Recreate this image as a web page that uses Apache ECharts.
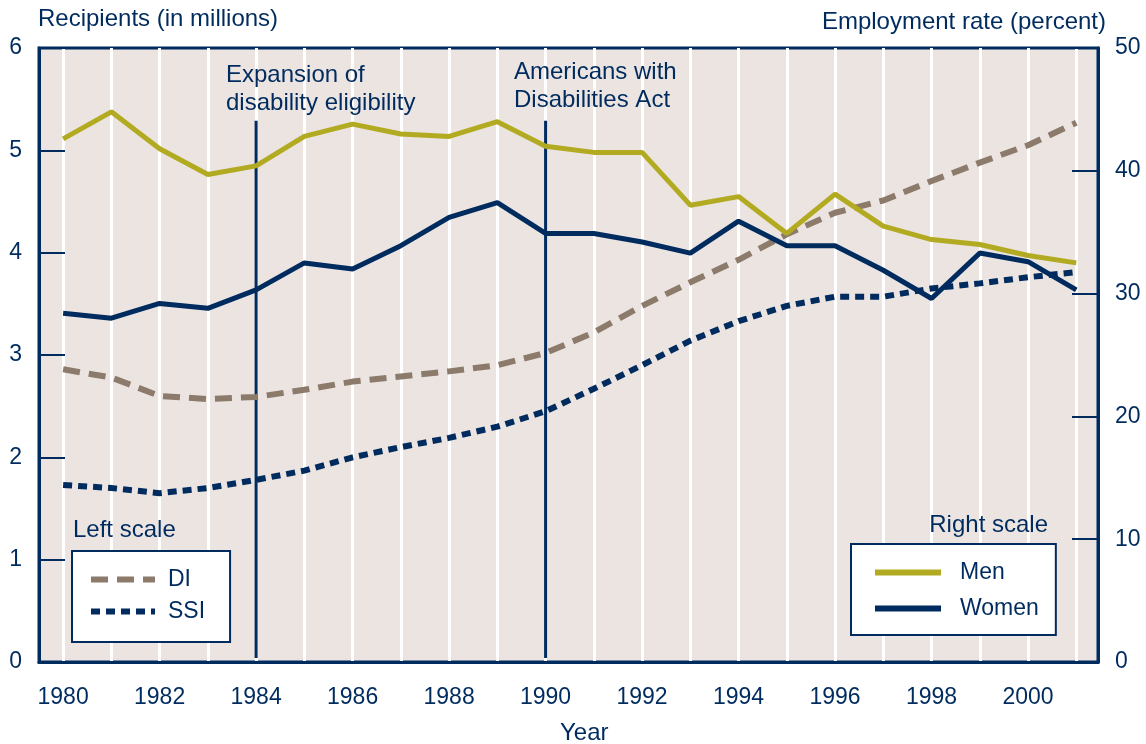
<!DOCTYPE html>
<html>
<head>
<meta charset="utf-8">
<title>Disability recipients and employment rate</title>
<script src="https://cdn.jsdelivr.net/npm/echarts@6/dist/echarts.min.js"></script>
<style>
  html, body { margin: 0; padding: 0; background: #fff; }
  #main { width: 1146px; height: 744px; }
</style>
</head>
<body>
<div id="main"></div>
<script>
// data
var years = [1980, 1981, 1982, 1983, 1984, 1985, 1986, 1987, 1988, 1989, 1990,
             1991, 1992, 1993, 1994, 1995, 1996, 1997, 1998, 1999, 2000, 2001];
var yearLabels = [1980, 1982, 1984, 1986, 1988, 1990, 1992, 1994, 1996, 1998, 2000];
// left scale, recipients in millions
var di  = [2.86, 2.78, 2.60, 2.57, 2.59, 2.66, 2.74, 2.79, 2.84, 2.90, 3.02,
           3.22, 3.48, 3.71, 3.93, 4.18, 4.39, 4.51, 4.70, 4.88, 5.05, 5.27];
var ssi = [1.73, 1.70, 1.65, 1.70, 1.78, 1.87, 2.00, 2.10, 2.19, 2.30, 2.45,
           2.67, 2.90, 3.14, 3.33, 3.48, 3.57, 3.57, 3.65, 3.70, 3.76, 3.81];
// right scale, employment rate (percent)
var men   = [42.6, 44.8, 41.8, 39.7, 40.4, 42.8, 43.8, 43.0, 42.8, 44.0, 42.0,
             41.5, 41.5, 37.2, 37.9, 34.9, 38.1, 35.5, 34.4, 34.0, 33.1, 32.5];
var women = [28.4, 28.0, 29.2, 28.8, 30.3, 32.5, 32.0, 33.9, 36.2, 37.4, 34.9,
             34.9, 34.2, 33.3, 35.9, 33.9, 33.9, 31.9, 29.6, 33.3, 32.6, 30.3];
// policy events (vertical lines, drawn on left scale from 0 up to eventTop)
var events = [1984, 1990];
var eventText = ['Expansion of\ndisability eligibility', 'Americans with\nDisabilities Act'];
var eventTop = 5.29;

var navy = '#002b5e';
var olive = '#b2ab21';
var taupe = '#8c7b6b';
var font = "'Liberation Sans', Arial, sans-serif";

function pairs(xs, ys) {
  return xs.map(function (x, i) { return [x, ys[i]]; });
}

var myChart = echarts.init(document.getElementById('main'));

var series = [
  {
    name: 'DI', type: 'line', yAxisIndex: 0, symbol: 'none', z: 3,
    lineStyle: { color: taupe, width: 6, type: [17, 9] },
    itemStyle: { color: taupe },
    data: pairs(years, di)
  },
  {
    name: 'SSI', type: 'line', yAxisIndex: 0, symbol: 'none', z: 3,
    lineStyle: { color: navy, width: 6, type: [9, 6] },
    itemStyle: { color: navy },
    data: pairs(years, ssi)
  },
  {
    name: 'Men', type: 'line', yAxisIndex: 1, symbol: 'none', z: 4,
    lineStyle: { color: olive, width: 5 },
    itemStyle: { color: olive },
    data: pairs(years, men)
  },
  {
    name: 'Women', type: 'line', yAxisIndex: 1, symbol: 'none', z: 4,
    lineStyle: { color: navy, width: 5 },
    itemStyle: { color: navy },
    data: pairs(years, women)
  }
];

events.forEach(function (yr, i) {
  series.push({
    name: 'event' + i, type: 'line', yAxisIndex: 0, symbol: 'none', z: 2,
    silent: true,
    lineStyle: { color: navy, width: 3 },
    data: [[yr, 0.04], [yr, eventTop]]
  });
});

function txt(extra) {
  var base = { type: 'text', z: 100, style: { fill: navy, font: '24px ' + font, lineHeight: 28 } };
  for (var k in extra) {
    if (k === 'style') {
      for (var s in extra.style) base.style[s] = extra.style[s];
    } else {
      base[k] = extra[k];
    }
  }
  return base;
}

myChart.setOption({
  animation: false,
  backgroundColor: '#ffffff',
  textStyle: { fontFamily: font, color: navy },
  grid: {
    left: 39, right: 48, top: 48, bottom: 82,
    show: true, backgroundColor: '#ebe4e1',
    borderColor: navy, borderWidth: 3
  },
  xAxis: {
    type: 'value', min: 1979.5, max: 2001.45,
    axisLine: { show: true, lineStyle: { color: navy, width: 3 } },
    axisTick: { show: false, customValues: years },
    splitLine: { show: true, lineStyle: { color: '#ffffff', width: 3 } },
    axisLabel: {
      customValues: yearLabels, margin: 24,
      color: navy, fontSize: 23, fontFamily: font,
      formatter: function (v) { return String(v); }
    }
  },
  yAxis: [
    {
      type: 'value', min: 0, max: 6, interval: 1, position: 'left',
      axisLine: { show: true, lineStyle: { color: navy, width: 3 } },
      axisTick: { show: true, inside: true, length: 26, lineStyle: { color: navy, width: 2 } },
      splitLine: { show: false },
      axisLabel: { margin: 17, color: navy, fontSize: 23, fontFamily: font }
    },
    {
      type: 'value', min: 0, max: 50, interval: 10, position: 'right',
      axisLine: { show: true, lineStyle: { color: navy, width: 3 } },
      axisTick: { show: true, inside: true, length: 26, lineStyle: { color: navy, width: 2 } },
      splitLine: { show: false },
      axisLabel: { margin: 17, color: navy, fontSize: 23, fontFamily: font }
    }
  ],
  legend: [
    {
      data: ['DI', 'SSI'], orient: 'vertical', left: 72, top: 551,
      padding: [17, 25, 19, 16], itemGap: 9, itemWidth: 64, itemHeight: 14,
      backgroundColor: '#ffffff', borderColor: navy, borderWidth: 2,
      selectedMode: false,
      itemStyle: { opacity: 0 },
      lineStyle: { width: 6 },
      textStyle: { color: navy, fontSize: 23, fontFamily: font, padding: [0, 0, 0, 8] }
    },
    {
      data: ['Men', 'Women'], orient: 'vertical', left: 851, top: 544,
      padding: [17, 17, 15, 21], itemGap: 13, itemWidth: 66, itemHeight: 14,
      backgroundColor: '#ffffff', borderColor: navy, borderWidth: 2,
      selectedMode: false,
      itemStyle: { opacity: 0 },
      lineStyle: { width: 6 },
      textStyle: { color: navy, fontSize: 23, fontFamily: font, padding: [0, 0, 0, 14] }
    }
  ],
  graphic: [
    txt({ left: 38, top: 5, style: { text: 'Recipients (in millions)' } }),
    txt({ right: 40, top: 8, style: { text: 'Employment rate (percent)' } }),
    txt({ left: 560, top: 719, style: { text: 'Year' } }),
    txt({ left: 226, top: 61, style: { text: eventText[0] } }),
    txt({ left: 514, top: 58, style: { text: eventText[1] } }),
    txt({ left: 73, top: 516, style: { text: 'Left scale' } }),
    txt({ right: 98, top: 511, style: { text: 'Right scale' } })
  ],
  series: series
});
</script>
</body>
</html>
